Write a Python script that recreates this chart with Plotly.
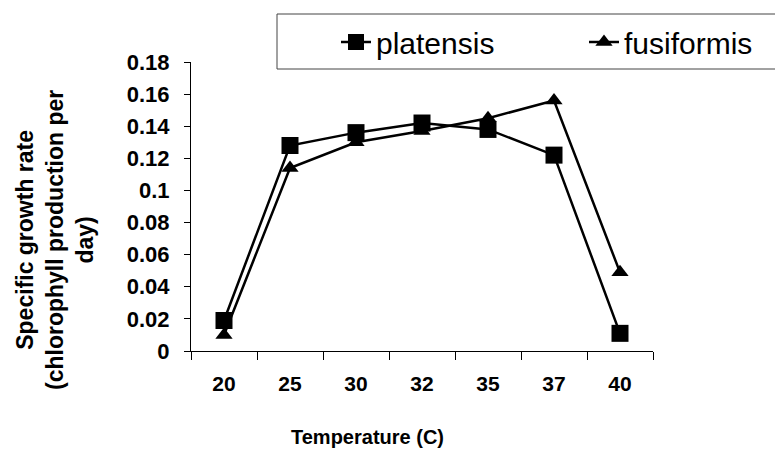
import plotly.graph_objects as go

temperatures = ["20", "25", "30", "32", "35", "37", "40"]
platensis = [0.019, 0.128, 0.136, 0.142, 0.138, 0.122, 0.011]
fusiformis = [0.010, 0.114, 0.130, 0.137, 0.145, 0.156, 0.049]
y_ticks = [0, 0.02, 0.04, 0.06, 0.08, 0.1, 0.12, 0.14, 0.16, 0.18]
y_tick_labels = ["0", "0.02", "0.04", "0.06", "0.08", "0.1", "0.12", "0.14", "0.16", "0.18"]

FONT = "Liberation Sans, Arial, sans-serif"

fig = go.Figure()
fig.add_trace(go.Scatter(
    x=temperatures, y=platensis, name="platensis", mode="lines+markers",
    line=dict(color="black", width=2.5),
    marker=dict(symbol="square", size=17, color="black"),
    legend="legend",
))
fig.add_trace(go.Scatter(
    x=temperatures, y=fusiformis, name="fusiformis", mode="lines+markers",
    line=dict(color="black", width=2.5),
    marker=dict(symbol="triangle-up", size=15, color="black"),
    legend="legend2",
))

W, H = 775, 449
L, R, T, B = 191, 122, 62, 98
pw = W - L - R
ph = H - T - B

def px_x(x):
    return (x - L) / pw

def px_y(y):
    return (H - B - y) / ph

legend_common = dict(
    orientation="h", xanchor="left", yanchor="top",
    font=dict(size=30, family=FONT, color="black"),
    bgcolor="rgba(0,0,0,0)", borderwidth=0, itemwidth=30,
)

fig.update_layout(
    width=W, height=H,
    margin=dict(l=L, r=R, t=T, b=B, autoexpand=False),
    paper_bgcolor="white", plot_bgcolor="white",
    font=dict(family=FONT, color="black"),
    showlegend=True,
    legend=dict(x=px_x(336), y=px_y(16), **legend_common),
    legend2=dict(x=px_x(584), y=px_y(16), **legend_common),
    xaxis=dict(
        type="category", range=[-0.5, 6.5],
        showline=True, linecolor="black", linewidth=1,
        ticks="outside", tickson="boundaries", ticklen=8, tickcolor="black",
        showgrid=False, zeroline=False,
        tickfont=dict(size=21, family=FONT, color="black", weight="bold"),
        ticklabelstandoff=14,
    ),
    yaxis=dict(
        range=[0, 0.18],
        tickvals=y_ticks, ticktext=y_tick_labels,
        showline=True, linecolor="black", linewidth=1,
        ticks="outside", ticklen=6, tickcolor="black",
        showgrid=False, zeroline=False,
        tickfont=dict(size=22, family=FONT, color="black", weight="bold"),
        ticklabelstandoff=10,
    ),
    shapes=[dict(
        type="rect", xref="paper", yref="paper",
        x0=px_x(277), x1=px_x(790), y0=px_y(69), y1=px_y(14),
        line=dict(color="#444444", width=1), fillcolor="white", layer="below",
    )],
    annotations=[
        dict(
            text="Temperature (C)", xref="paper", yref="paper",
            x=px_x(367), y=px_y(437), xanchor="center", yanchor="middle",
            showarrow=False, font=dict(size=20, family=FONT, color="black", weight="bold"),
        ),
        dict(
            text="Specific growth rate<br>(chlorophyll production per<br>day)",
            xref="paper", yref="paper",
            x=px_x(55), y=px_y(240), xanchor="center", yanchor="middle",
            textangle=-90, showarrow=False,
            font=dict(size=23, family=FONT, color="black", weight="bold"),
        ),
    ],
)

fig.write_html(
    "out.html",
    config={"displayModeBar": False},
    post_script="document.body.style.margin='0px';",
)
